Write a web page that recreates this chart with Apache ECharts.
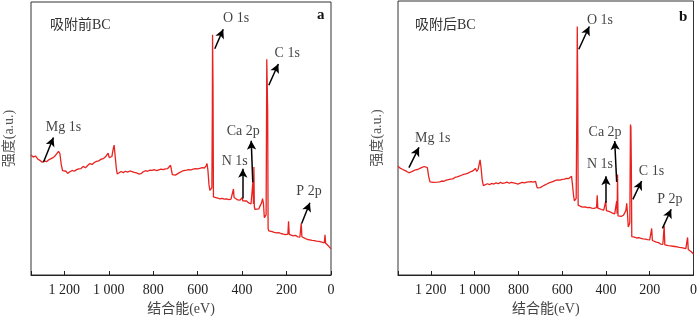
<!DOCTYPE html>
<html>
<head>
<meta charset="utf-8">
<script src="https://cdn.jsdelivr.net/npm/echarts@6/dist/echarts.min.js"></script>
<style>
html,body{margin:0;padding:0;background:#fff;}
#chart{width:700px;height:321px;}
</style>
</head>
<body>
<div id="chart"></div>
<script>
// binding energy (eV) and intensity (a.u.)
var energyA = [1350,1340,1330,1320,1310,1300,1290,1280,1270,1260,1250,1240,1232,1226,1220,1214,1208,1200,1192,1185,1175,1165,1155,1145,1135,1125,1115,1105,1095,1085,1075,1065,1055,1045,1035,1025,1015,1008,1003,998,992,986,980,976,972,966,962,955,945,935,925,915,905,895,885,875,865,855,845,835,825,815,805,795,785,775,765,755,745,735,728,722,718,714,708,700,692,684,676,668,660,650,640,630,620,610,600,590,580,570,562,558,554,549,545,540,536,534,533,531,529,525,520,510,500,490,480,470,460,450,442,439,436,430,420,410,403,400,397,390,380,370,360,354,351,349,347,345,342,335,325,318,312,308,304,300,296,292,289,287,285,283,280,275,265,255,245,235,225,215,205,198,194,191,188,180,170,160,150,140,136,134,131,125,115,105,95,85,75,65,55,45,38,30,27,24,20,15,10,5,0];
var intensityA = [44.0,43.2,43.6,42.5,42.0,41.3,41.8,41.5,42.2,42.6,43.0,43.8,44.2,45.3,44.5,40.5,38.2,37.5,38.0,37.2,37.8,38.3,38.0,38.6,38.9,39.0,39.8,39.3,40.1,40.8,40.5,41.2,41.6,41.8,42.4,42.6,43.3,43.5,44.6,43.0,42.5,43.4,46.2,47.6,44.2,39.0,37.0,37.6,37.9,37.5,38.0,37.7,38.1,37.9,37.6,37.4,37.0,37.1,37.8,38.2,38.0,38.4,38.3,38.6,38.2,38.5,38.8,38.6,38.9,39.0,39.3,40.2,39.5,36.8,36.4,36.6,36.9,37.4,37.8,38.1,38.0,38.4,38.6,38.5,38.8,39.0,38.9,39.1,39.3,39.2,40.0,40.8,38.5,33.0,31.0,30.5,32.0,60.0,88.0,70.0,28.6,28.4,28.0,28.2,27.9,28.1,27.8,27.9,27.6,27.8,28.0,31.5,28.4,27.7,27.5,27.4,27.6,28.3,27.2,27.0,27.1,26.4,26.0,26.3,34.5,26.0,39.6,25.0,24.0,24.4,24.2,25.5,26.5,28.0,26.2,21.0,20.8,22.0,79.0,78.5,60.0,17.0,16.2,15.8,15.9,15.6,15.4,15.5,15.2,15.0,14.8,14.6,15.0,19.7,14.9,14.4,14.3,14.5,14.0,13.9,13.8,18.9,14.0,13.5,13.3,13.0,12.9,12.7,12.6,12.4,12.3,12.1,12.0,11.8,14.7,11.6,11.3,11.0,10.5,10.0,9.6];

var energyB = [1350,1340,1330,1320,1310,1300,1290,1280,1270,1260,1250,1240,1230,1222,1216,1210,1204,1196,1188,1180,1170,1160,1150,1140,1130,1120,1110,1100,1090,1080,1070,1060,1050,1040,1030,1020,1010,1002,996,990,984,979,975,971,965,960,952,942,932,922,912,902,892,882,872,862,852,842,832,822,812,802,792,782,772,762,752,742,732,722,717,714,708,700,690,680,670,660,650,640,630,620,610,600,590,580,570,562,557,553,548,544,540,536,533,531,529,527,522,515,505,495,485,475,465,455,447,443,440,437,430,420,410,404,401,398,390,380,370,360,354,351,349,347,345,340,330,320,313,309,305,302,298,294,291,288,286,284,282,278,270,260,250,240,230,220,210,200,194,191,188,180,170,160,150,140,136,134,131,125,115,105,95,85,75,65,55,45,35,30,27,24,20,15,10,5,0];
var intensityB = [39.7,39.0,38.6,38.2,37.8,37.3,37.6,38.0,38.4,38.5,38.9,39.3,39.6,40.3,39.2,36.0,34.0,33.6,33.8,33.5,33.9,34.0,34.3,34.2,34.6,34.8,35.0,35.1,35.6,35.8,36.1,36.4,36.7,36.9,37.2,37.6,37.9,38.3,38.9,37.8,38.6,40.5,42.0,39.5,34.5,32.6,33.1,33.3,33.0,33.4,33.2,33.6,33.3,33.8,33.4,33.6,33.9,33.5,33.8,33.6,33.4,33.2,33.5,33.8,33.6,33.9,34.0,34.1,33.9,34.2,34.4,31.8,31.6,31.9,32.4,32.8,33.2,33.6,33.9,34.2,34.5,34.7,34.6,34.9,35.0,35.3,35.2,35.6,36.0,33.0,29.0,27.0,26.8,28.0,60.0,90.7,70.0,25.5,25.2,25.0,24.8,24.9,24.6,24.7,24.4,24.3,24.2,24.6,29.1,24.4,24.2,23.9,23.7,23.9,27.0,23.5,23.3,23.0,22.6,22.3,22.5,27.0,22.4,36.7,21.6,21.2,21.4,21.8,22.5,23.5,26.2,23.0,17.5,17.3,19.0,54.9,54.0,40.0,14.0,13.7,13.8,13.5,13.6,13.4,13.2,13.1,12.9,12.8,12.9,17.0,12.6,12.3,12.0,11.8,11.3,11.2,11.1,17.9,11.0,10.8,10.7,10.6,10.5,10.4,10.3,10.1,10.0,9.8,9.6,9.5,13.7,9.3,9.0,8.7,8.5,8.0,7.6];

var xTicks = [0,200,400,600,800,1000,1200];
var panelTitles = ['吸附前BC','吸附后BC'];
var panelLetters = ['a','b'];

// peak annotations: label spot, arrow tail and arrow head (eV, intensity)
var peakNames = ['Mg 1s','O 1s','N 1s','Ca 2p','C 1s','P 2p'];
var labelPosA = [[1204,54],[427,94],[433,41.7],[395,52.8],[197,81.3],[99,30.7]];
var arrowTailA = [[1294,41.3],[523,82.9],[397,28],[352,34],[280,69.5],[132,18.9]];
var arrowHeadA = [[1249,50.4],[485,90],[397,38.9],[359,49.2],[237,77.3],[95,26.5]];
var labelPosB = [[1191,50],[427,93],[427,40.4],[404,51.9],[192,37.7],[108,27.6]];
var arrowTailB = [[1300,39.2],[524,82.4],[400,26.4],[351,34],[277,27.6],[142,17]];
var arrowHeadB = [[1254,46.6],[476,90.7],[400,36],[360,48.9],[237,34.3],[102,24]];

var serif = '"Liberation Serif", "Noto Sans CJK SC", serif';

function pairs(xs, ys){
    var out = [];
    for(var i = 0; i < xs.length; i++){
        out.push([xs[i], ys[i]]);
    }
    return out;
}

function arrows(tails, heads){
    var out = [];
    for(var i = 0; i < tails.length; i++){
        out.push([{coord: tails[i]}, {coord: heads[i]}]);
    }
    return out;
}

function labels(pos){
    var out = [];
    for(var i = 0; i < pos.length; i++){
        out.push({value: [pos[i][0], pos[i][1]], name: peakNames[i]});
    }
    return out;
}

function xAxis(idx){
    return {
        type: 'value', gridIndex: idx, min: 0, max: 1350, interval: 200, inverse: true,
        name: '结合能(eV)', nameLocation: 'middle', nameGap: 27,
        nameTextStyle: {fontFamily: serif, fontSize: 14, color: '#444'},
        axisLine: {show: true, lineStyle: {color: '#222', width: 1}},
        axisTick: {show: true, inside: true, length: 4, lineStyle: {color: '#222'}},
        axisLabel: {
            fontFamily: serif, fontSize: 14, color: '#222', margin: 8,
            formatter: function(v){
                if(xTicks.indexOf(v) < 0) return '';
                return v >= 1000 ? Math.floor(v/1000) + ' ' + String(v % 1000).padStart(3,'0') : String(v);
            }
        },
        splitLine: {show: false}
    };
}

function yAxis(idx, gap){
    return {
        type: 'value', gridIndex: idx, min: 0, max: 100,
        name: '强度(a.u.)', nameLocation: 'middle', nameGap: gap, nameRotate: 90,
        nameTextStyle: {fontFamily: serif, fontSize: 14, color: '#555'},
        axisLine: {show: false}, axisTick: {show: false}, axisLabel: {show: false},
        splitLine: {show: false}
    };
}

function spectrum(idx, data, tails, heads, pos){
    return [
        {
            type: 'line', xAxisIndex: idx, yAxisIndex: idx, data: data,
            showSymbol: false, silent: true,
            lineStyle: {color: '#e8231f', width: 1.3},
            markLine: {
                silent: true, symbol: ['none','arrow'], symbolSize: [7, 9],
                lineStyle: {color: '#000', width: 1.5, type: 'solid'},
                label: {show: false},
                data: arrows(tails, heads)
            }
        },
        {
            type: 'scatter', xAxisIndex: idx, yAxisIndex: idx, data: labels(pos),
            symbolSize: 0, silent: true,
            label: {
                show: true, position: 'inside', formatter: '{b}',
                fontFamily: serif, fontSize: 14, color: '#111'
            }
        }
    ];
}

var chartDom = document.getElementById('chart');
var myChart = echarts.init(chartDom);
var option;

option = {
    animation: false,
    title: [
        {text: panelTitles[0], left: 50, top: 18, padding: 0, textStyle: {fontFamily: serif, fontSize: 14, fontWeight: 'normal', color: '#333'}},
        {text: panelLetters[0], left: 317, top: 8, padding: 0, textStyle: {fontFamily: serif, fontSize: 15, fontWeight: 'bold', color: '#111'}},
        {text: panelTitles[1], left: 415, top: 18, padding: 0, textStyle: {fontFamily: serif, fontSize: 14, fontWeight: 'normal', color: '#333'}},
        {text: panelLetters[1], left: 679, top: 10, padding: 0, textStyle: {fontFamily: serif, fontSize: 15, fontWeight: 'bold', color: '#111'}}
    ],
    grid: [
        {left: 31, top: 2, width: 300, height: 275, show: true, borderColor: '#333', borderWidth: 1},
        {left: 398, top: 1, width: 299, height: 275, show: true, borderColor: '#333', borderWidth: 1}
    ],
    xAxis: [xAxis(0), xAxis(1)],
    yAxis: [yAxis(0, 15), yAxis(1, 14)],
    series: spectrum(0, pairs(energyA, intensityA), arrowTailA, arrowHeadA, labelPosA)
        .concat(spectrum(1, pairs(energyB, intensityB), arrowTailB, arrowHeadB, labelPosB))
};

option && myChart.setOption(option);
</script>
</body>
</html>
